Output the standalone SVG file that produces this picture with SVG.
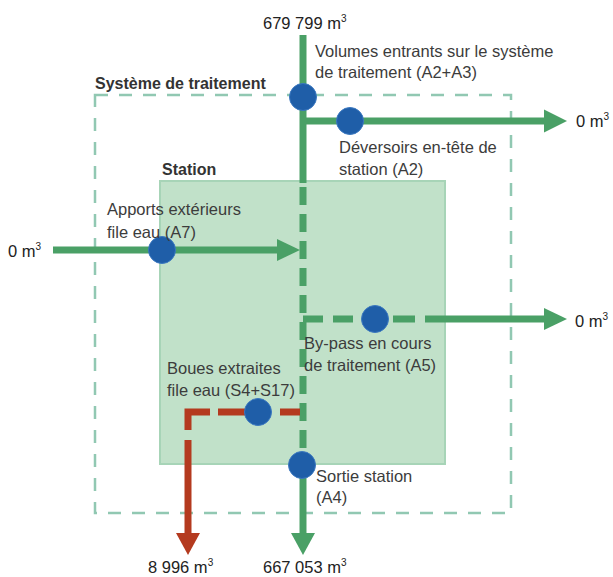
<svg xmlns="http://www.w3.org/2000/svg" width="613" height="577" viewBox="0 0 613 577">
  <style>
    text { font-family: "Liberation Sans", Arial, sans-serif; font-size: 16.5px; fill: #3c3c3c; }
    .b { font-weight: bold; font-size: 16px; fill: #333; }
    .num { font-size: 16.5px; fill: #222; }
    .sup { font-size: 10px; }
    .g { stroke: #4aa066; stroke-width: 7; fill: none; }
    .r { stroke: #b43a1f; stroke-width: 7; fill: none; }
    .gh { fill: #4aa066; }
    .rh { fill: #b43a1f; }
    .pt { fill: #1f5ea8; stroke: #3b78c0; stroke-width: 1; }
  </style>
  <rect width="613" height="577" fill="#ffffff"/>

  <g id="systeme">
    <rect x="95" y="95" width="416" height="418" fill="none" stroke="#91c8b2" stroke-width="2.5" stroke-dasharray="13 11"/>
    <text class="b" x="95" y="89">Système de traitement</text>
  </g>

  <g id="station">
    <rect x="160" y="181" width="285" height="283" fill="#c1e1c9" stroke="#a7d4b7" stroke-width="2"/>
    <text class="b" x="162" y="175">Station</text>
  </g>

  <g id="connectors">
    <!-- main vertical -->
    <path class="g" d="M303,35 V183"/>
    <path class="g" d="M303,181 V464" stroke-dasharray="18 9" stroke-dashoffset="-6"/>
    <path class="g" d="M303,462 V535"/>
    <polygon class="gh" points="291,533 315,533 303,555"/>
    <!-- top branch -->
    <path class="g" d="M303,121 H546"/>
    <polygon class="gh" points="544,109.5 544,132.5 567,121"/>
    <!-- left input -->
    <path class="g" d="M53,250 H279"/>
    <polygon class="gh" points="277,239 277,261 300,250"/>
    <!-- bypass -->
    <path class="g" d="M303,319 H323 M333,319 H353 M363,319 H387 M393,319 H415 M425,319 H546"/>
    <polygon class="gh" points="544,308 544,330 567,319"/>
    <!-- sludge -->
    <path class="r" d="M300,412 H280 M270,412 H218"/>
    <path class="r" d="M210,412 H188 V430" stroke-linejoin="miter"/>
    <path class="r" d="M188,440 V535"/>
    <polygon class="rh" points="176,533 200,533 188,555"/>
  </g>

  <g id="p-entrants">
    <circle class="pt" cx="303" cy="97" r="13.5"/>
    <text x="315" y="57">Volumes entrants sur le système</text>
    <text x="315" y="78">de traitement (A2+A3)</text>
  </g>
  <g id="p-deversoirs">
    <circle class="pt" cx="350" cy="121" r="13.5"/>
    <text x="339" y="153">Déversoirs en-tête de</text>
    <text x="339" y="175">station (A2)</text>
  </g>
  <g id="p-apports">
    <circle class="pt" cx="162" cy="250" r="13.5"/>
    <text x="107" y="215">Apports extérieurs</text>
    <text x="107" y="238">file eau (A7)</text>
  </g>
  <g id="p-bypass">
    <circle class="pt" cx="375" cy="319" r="13.5"/>
    <text x="304" y="349">By-pass en cours</text>
    <text x="304" y="371">de traitement (A5)</text>
  </g>
  <g id="p-boues">
    <circle class="pt" cx="258" cy="412" r="13.5"/>
    <text x="167" y="374">Boues extraites</text>
    <text x="167" y="396">file eau (S4+S17)</text>
  </g>
  <g id="p-sortie">
    <circle class="pt" cx="302" cy="465" r="13.5"/>
    <text x="316" y="482">Sortie station</text>
    <text x="316" y="503">(A4)</text>
  </g>

  <g id="values">
    <text class="num" x="263" y="29">679 799 m<tspan class="sup" dy="-7">3</tspan></text>
    <text class="num" x="576" y="127">0 m<tspan class="sup" dy="-7">3</tspan></text>
    <text class="num" x="8" y="257">0 m<tspan class="sup" dy="-7">3</tspan></text>
    <text class="num" x="575" y="327">0 m<tspan class="sup" dy="-7">3</tspan></text>
    <text class="num" x="148" y="573">8 996 m<tspan class="sup" dy="-7">3</tspan></text>
    <text class="num" x="263" y="573">667 053 m<tspan class="sup" dy="-7">3</tspan></text>
  </g>
</svg>
